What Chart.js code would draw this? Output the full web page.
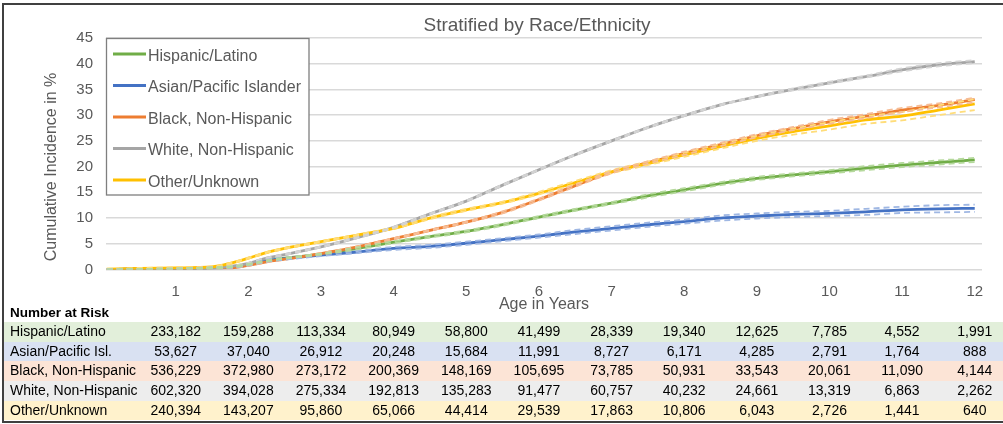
<!DOCTYPE html>
<html>
<head>
<meta charset="utf-8">
<script src="https://cdn.jsdelivr.net/npm/chart.js@4.4.1/dist/chart.umd.min.js"></script>
<style>
  body { margin: 0; background: #fff; }
  #wrap { position: relative; width: 1003px; height: 424px; overflow: hidden; font-family: "Liberation Sans", Arial, sans-serif; }
  #chart { position: absolute; left: 0; top: 0; }
  #frame { position: absolute; left: 2px; top: 3px; width: 1010px; height: 416px; border: 2px solid #404040; border-right: none; pointer-events: none; }
  #risk { position: absolute; left: 0; top: 0; width: 1003px; height: 424px; }
  .band { position: absolute; left: 4px; width: 999px; }
  .cell { position: absolute; font-size: 14px; color: #000; white-space: nowrap; }
  .head { position: absolute; left: 10px; top: 305px; font-size: 13.5px; font-weight: bold; color: #000; }
</style>
</head>
<body>
<div id="wrap">
  <canvas id="chart" width="1003" height="314"></canvas>
  <div id="risk"></div>
  <div id="frame"></div>
</div>
<script>
// temps en années
var xYears = [0.05, 0.5, 1, 1.5, 1.75, 2, 2.25, 2.5, 3, 3.5, 4, 4.5, 5, 5.5, 6, 6.5, 7, 7.5, 8, 8.5, 9, 9.5, 10, 10.5, 11, 11.5, 12];
var xTicks = [1, 2, 3, 4, 5, 6, 7, 8, 9, 10, 11, 12];

// incidence cumulée (%) : courbe, borne basse, borne haute
var hispanic   = [0, 0.1, 0.15, 0.3, 0.5, 1.0, 1.7, 2.2, 3.0, 4.1, 5.3, 6.4, 7.4, 8.7, 10.2, 11.6, 12.9, 14.3, 15.5, 16.7, 17.7, 18.4, 19.0, 19.7, 20.3, 20.8, 21.3];
var hispanicLo = [0, 0.1, 0.1, 0.2, 0.4, 0.9, 1.6, 2.1, 2.9, 3.9, 5.1, 6.2, 7.2, 8.5, 10.0, 11.4, 12.7, 14.0, 15.2, 16.4, 17.4, 18.1, 18.7, 19.3, 19.9, 20.4, 20.9];
var hispanicHi = [0, 0.1, 0.2, 0.4, 0.6, 1.1, 1.8, 2.3, 3.1, 4.3, 5.5, 6.6, 7.6, 8.9, 10.4, 11.8, 13.1, 14.6, 15.8, 17.0, 18.0, 18.7, 19.3, 20.1, 20.7, 21.2, 21.7];

var asian   = [0, 0.1, 0.15, 0.3, 0.4, 0.9, 1.7, 2.1, 2.8, 3.4, 4.1, 4.5, 5.1, 5.8, 6.5, 7.3, 8.0, 8.7, 9.3, 10.0, 10.4, 10.7, 10.9, 11.2, 11.6, 11.8, 11.9];
var asianLo = [0, 0.1, 0.1, 0.2, 0.3, 0.8, 1.5, 1.9, 2.6, 3.2, 3.8, 4.2, 4.8, 5.5, 6.2, 6.9, 7.6, 8.3, 8.9, 9.5, 9.9, 10.2, 10.4, 10.6, 11.0, 11.1, 11.2];
var asianHi = [0, 0.1, 0.2, 0.4, 0.5, 1.0, 1.9, 2.3, 3.0, 3.6, 4.4, 4.8, 5.4, 6.1, 6.8, 7.7, 8.4, 9.1, 9.7, 10.5, 10.9, 11.2, 11.4, 11.8, 12.2, 12.5, 12.6];

var black   = [0, 0.1, 0.15, 0.3, 0.3, 0.8, 1.5, 2.0, 3.1, 4.4, 6.0, 7.6, 9.2, 11.1, 13.6, 16.3, 18.9, 20.8, 22.6, 24.3, 26.0, 27.4, 28.7, 29.8, 31.0, 31.9, 33.0];
var blackLo = [0, 0.1, 0.1, 0.2, 0.2, 0.7, 1.4, 1.9, 3.0, 4.3, 5.9, 7.5, 9.1, 10.9, 13.4, 16.1, 18.7, 20.6, 22.3, 24.0, 25.7, 27.1, 28.3, 29.4, 30.6, 31.5, 32.5];
var blackHi = [0, 0.1, 0.2, 0.4, 0.4, 0.9, 1.6, 2.1, 3.2, 4.5, 6.1, 7.7, 9.3, 11.3, 13.8, 16.5, 19.1, 21.0, 22.9, 24.6, 26.3, 27.7, 29.1, 30.2, 31.4, 32.3, 33.4];

var white   = [0, 0.1, 0.15, 0.3, 0.6, 1.2, 2.2, 2.9, 4.4, 6.2, 8.2, 10.8, 13.3, 16.4, 19.4, 22.3, 25.0, 27.6, 29.9, 32.0, 33.6, 35.0, 36.3, 37.5, 38.8, 39.8, 40.4];
var whiteLo = [0, 0.1, 0.1, 0.2, 0.5, 1.1, 2.1, 2.8, 4.3, 6.1, 8.1, 10.7, 13.2, 16.3, 19.3, 22.2, 24.9, 27.5, 29.8, 31.9, 33.5, 34.8, 36.1, 37.3, 38.5, 39.5, 40.1];
var whiteHi = [0, 0.1, 0.2, 0.4, 0.7, 1.3, 2.3, 3.0, 4.5, 6.3, 8.3, 10.9, 13.4, 16.5, 19.5, 22.4, 25.1, 27.7, 30.0, 32.1, 33.7, 35.2, 36.5, 37.7, 39.1, 40.1, 40.7];

var other   = [0.05, 0.2, 0.3, 0.5, 1.2, 2.2, 3.3, 4.1, 5.4, 6.7, 8.0, 10.0, 11.6, 13.0, 14.8, 16.9, 19.0, 20.6, 22.3, 23.9, 25.5, 26.8, 27.9, 29.1, 29.8, 31.0, 32.2];
var otherLo = [0, 0.1, 0.2, 0.4, 1.1, 2.1, 3.2, 4.0, 5.3, 6.6, 7.9, 9.8, 11.4, 12.8, 14.6, 16.6, 18.7, 20.3, 21.9, 23.5, 25.0, 26.2, 27.2, 28.3, 29.0, 30.0, 31.0];
var otherHi = [0.1, 0.3, 0.4, 0.6, 1.3, 2.3, 3.4, 4.2, 5.5, 6.8, 8.2, 10.2, 11.8, 13.2, 15.1, 17.2, 19.3, 21.0, 22.7, 24.4, 26.0, 27.4, 28.6, 29.8, 30.6, 31.9, 33.1];

// nombre à risque
var riskHispanic = [233182, 159288, 113334, 80949, 58800, 41499, 28339, 19340, 12625, 7785, 4552, 1991];
var riskAsian    = [53627, 37040, 26912, 20248, 15684, 11991, 8727, 6171, 4285, 2791, 1764, 888];
var riskBlack    = [536229, 372980, 273172, 200369, 148169, 105695, 73785, 50931, 33543, 20061, 11090, 4144];
var riskWhite    = [602320, 394028, 275334, 192813, 135283, 91477, 60757, 40232, 24661, 13319, 6863, 2262];
var riskOther    = [240394, 143207, 95860, 65066, 44414, 29539, 17863, 10806, 6043, 2726, 1441, 640];

var legendLabels = ['Hispanic/Latino', 'Asian/Pacific Islander', 'Black, Non-Hispanic', 'White, Non-Hispanic', 'Other/Unknown'];
var tableLabels = ['Hispanic/Latino', 'Asian/Pacific Isl.', 'Black, Non-Hispanic', 'White, Non-Hispanic', 'Other/Unknown'];

var series = [
  { main: hispanic, lo: hispanicLo, hi: hispanicHi, risk: riskHispanic, color: '#70AD47', light: '#B5D99C', band: '#E2EFDA' },
  { main: asian,    lo: asianLo,    hi: asianHi,    risk: riskAsian,    color: '#4472C4', light: '#9FB7E3', band: '#D9E1F2' },
  { main: black,    lo: blackLo,    hi: blackHi,    risk: riskBlack,    color: '#ED7D31', light: '#F6BD96', band: '#FCE4D6' },
  { main: white,    lo: whiteLo,    hi: whiteHi,    risk: riskWhite,    color: '#A5A5A5', light: '#D3D3D3', band: '#EDEDED' },
  { main: other,    lo: otherLo,    hi: otherHi,    risk: riskOther,    color: '#FFC000', light: '#FFDD7A', band: '#FFF2CC' }
];

function points(vals) {
  return xYears.map(function(x, i) { return { x: x, y: vals[i] }; });
}

var FONT = '"Liberation Sans", Arial, sans-serif';
var datasets = [];

// bornes en pointillés (dessinées au-dessus)
series.forEach(function(s) {
  [s.lo, s.hi].forEach(function(b) {
    datasets.push({
      data: points(b), borderColor: s.light, borderWidth: 1.8, borderDash: [6, 4],
      pointRadius: 0, cubicInterpolationMode: 'monotone', fill: false, order: 0
    });
  });
});
// courbes principales, jaune au-dessus
[4, 3, 2, 1, 0].forEach(function(k) {
  var s = series[k];
  datasets.push({
    label: legendLabels[k], data: points(s.main), borderColor: s.color, borderWidth: 2.8,
    pointRadius: 0, cubicInterpolationMode: 'monotone', fill: false, order: 1
  });
});

var decorPlugin = {
  id: 'decor',
  afterDraw: function(chart) {
    var ctx = chart.ctx;
    ctx.save();
    // titre
    ctx.fillStyle = '#595959';
    ctx.font = '19px ' + FONT;
    ctx.textAlign = 'center';
    ctx.textBaseline = 'alphabetic';
    ctx.fillText('Stratified by Race/Ethnicity', 537, 30.5);
    // titre de l'axe Y
    ctx.save();
    ctx.translate(55.5, 167);
    ctx.rotate(-Math.PI / 2);
    ctx.font = '16px ' + FONT;
    ctx.fillText('Cumulative Incidence in %', 0, 0);
    ctx.restore();
    // légende encadrée
    ctx.fillStyle = '#fff';
    ctx.fillRect(106, 38, 203, 157);
    ctx.strokeStyle = '#7f7f7f';
    ctx.lineWidth = 1.3;
    ctx.strokeRect(106.5, 38.5, 202.5, 156.5);
    ctx.font = '16px ' + FONT;
    ctx.textAlign = 'left';
    series.forEach(function(s, i) {
      var y = 54 + i * 31.5;
      ctx.strokeStyle = s.color;
      ctx.lineWidth = 2.8;
      ctx.beginPath();
      ctx.moveTo(113, y);
      ctx.lineTo(146, y);
      ctx.stroke();
      ctx.fillStyle = '#595959';
      ctx.fillText(legendLabels[i], 148, y + 6.5);
    });
    ctx.restore();
  }
};

var chart = new Chart(document.getElementById('chart').getContext('2d'), {
  type: 'line',
  data: { datasets: datasets },
  plugins: [decorPlugin],
  options: {
    responsive: false,
    animation: false,
    devicePixelRatio: 1,
    layout: { padding: { top: 38, right: 21, left: 0, bottom: 0 } },
    plugins: { legend: { display: false }, title: { display: false }, tooltip: { enabled: false } },
    scales: {
      x: {
        type: 'linear', min: 0.04, max: 12.1,
        grid: { display: false },
        border: { display: false },
        ticks: { color: '#595959', font: { size: 15, family: FONT }, padding: 5, maxRotation: 0 },
        title: { display: true, text: 'Age in Years', color: '#595959', font: { size: 16, family: FONT }, padding: 0 },
        afterBuildTicks: function(scale) { scale.ticks = xTicks.map(function(v) { return { value: v }; }); },
        afterFit: function(scale) { scale.height = 44.5; scale.paddingLeft = 0; scale.paddingRight = 0; }
      },
      y: {
        min: 0, max: 45,
        grid: { color: '#d9d9d9', lineWidth: 1.5, drawTicks: false },
        border: { display: false },
        ticks: { stepSize: 5, color: '#595959', font: { size: 15, family: FONT }, padding: 13 },
        afterFit: function(scale) { scale.width = 106; }
      }
    }
  }
});

// tableau "Number at Risk"
var risk = document.getElementById('risk');
var head = document.createElement('div');
head.className = 'head';
head.textContent = 'Number at Risk';
risk.appendChild(head);

var rowTop = 322, rowH = 19.7;
series.forEach(function(s, i) {
  var top = rowTop + i * rowH;
  var band = document.createElement('div');
  band.className = 'band';
  band.style.top = top + 'px';
  band.style.height = rowH + 'px';
  band.style.background = s.band;
  risk.appendChild(band);

  var lab = document.createElement('div');
  lab.className = 'cell';
  lab.style.left = '10px';
  lab.style.top = top + 'px';
  lab.style.lineHeight = rowH + 'px';
  lab.textContent = tableLabels[i];
  risk.appendChild(lab);

  s.risk.forEach(function(n, j) {
    var c = document.createElement('div');
    c.className = 'cell';
    c.style.left = chart.scales.x.getPixelForValue(xTicks[j]) + 'px';
    c.style.top = top + 'px';
    c.style.lineHeight = rowH + 'px';
    c.style.transform = 'translateX(-50%)';
    c.textContent = n.toLocaleString('en-US');
    risk.appendChild(c);
  });
});
</script>
</body>
</html>
